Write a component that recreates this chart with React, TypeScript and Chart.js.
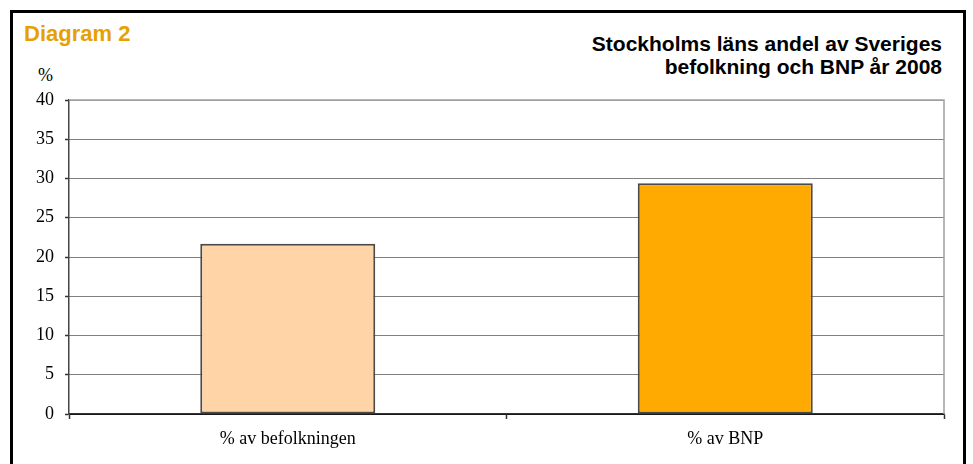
import React, { useEffect, useRef } from "react";
import { Chart, registerables } from "chart.js";

Chart.register(...registerables);

const categories = ["% av befolkningen", "% av BNP"];
const values = [21.7, 29.4];
const barColors = ["#FFD5A8", "#FFAA00"];
const yMin = 0;
const yMax = 40;
const yStep = 5;

const plotFrame = {
  id: "plotFrame",
  afterDatasetsDraw(chart: any) {
    const { ctx, chartArea } = chart;
    ctx.save();
    ctx.strokeStyle = "#a0a0a0";
    ctx.lineWidth = 1.5;
    ctx.beginPath();
    ctx.moveTo(chartArea.left, chartArea.top);
    ctx.lineTo(chartArea.right, chartArea.top);
    ctx.lineTo(chartArea.right, chartArea.bottom);
    ctx.stroke();
    ctx.restore();
  },
};

export default function App() {
  const canvasRef = useRef<HTMLCanvasElement | null>(null);

  useEffect(() => {
    if (!canvasRef.current) return;
    const chart = new Chart(canvasRef.current, {
      type: "bar",
      data: {
        labels: categories,
        datasets: [
          {
            data: values,
            backgroundColor: barColors,
            borderColor: "#4a4a4a",
            borderWidth: 2,
            borderSkipped: false,
            categoryPercentage: 0.8,
            barPercentage: 0.5,
          },
        ],
      },
      options: {
        animation: false,
        responsive: true,
        maintainAspectRatio: false,
        layout: { padding: { left: 0, top: 100, right: 29, bottom: 0 } },
        plugins: {
          legend: { display: false },
          title: { display: false },
          tooltip: { enabled: false },
        },
        scales: {
          x: {
            offset: true,
            grid: {
              offset: true,
              drawOnChartArea: false,
              tickLength: 5,
              tickColor: "#333",
              tickWidth: 1.5,
            },
            border: { color: "#333", width: 1.5 },
            ticks: {
              color: "#000",
              padding: 9,
              font: { family: "'Liberation Serif', serif", size: 18 },
            },
            afterFit: (scale: any) => {
              scale.height = 50;
            },
          },
          y: {
            min: yMin,
            max: yMax,
            ticks: {
              stepSize: yStep,
              color: "#000",
              padding: 11,
              font: { family: "'Liberation Serif', serif", size: 18 },
            },
            grid: {
              color: (ctx: any) =>
                ctx.tick && ctx.tick.value === yMax ? "#a0a0a0" : "#000",
              lineWidth: 1,
              tickLength: 4,
              tickColor: "#333",
              tickWidth: 1.5,
            },
            border: {
              color: "#444",
              width: 1.5,
              dash: (ctx: any) =>
                ctx.tick && ctx.tick.value > yMin && ctx.tick.value < yMax
                  ? [1, 1]
                  : [],
            },
            afterFit: (scale: any) => {
              scale.width = 69;
            },
          },
        },
      },
      plugins: [plotFrame],
    });
    return () => chart.destroy();
  }, []);

  return (
    <div
      style={{
        position: "absolute",
        left: 0,
        top: 0,
        width: 973,
        height: 464,
        overflow: "hidden",
        background: "#fff",
      }}
    >
      <div
        style={{
          position: "absolute",
          left: 10,
          top: 10,
          width: 950,
          height: 600,
          border: "3px solid #000",
        }}
      />
      <div
        style={{
          position: "absolute",
          left: 24,
          top: 23,
          fontFamily: "'Liberation Sans', Arial, sans-serif",
          fontWeight: 700,
          fontSize: 22,
          lineHeight: "21px",
          color: "#E6A100",
          whiteSpace: "nowrap",
        }}
      >
        Diagram 2
      </div>
      <div
        style={{
          position: "absolute",
          right: 31,
          top: 33,
          textAlign: "right",
          fontFamily: "'Liberation Sans', Arial, sans-serif",
          fontWeight: 700,
          fontSize: 21,
          lineHeight: "22.6px",
          color: "#000",
          whiteSpace: "nowrap",
        }}
      >
        Stockholms läns andel av Sveriges
        <br />
        befolkning och BNP år 2008
      </div>
      <div
        style={{
          position: "absolute",
          left: 38,
          top: 66,
          fontFamily: "'Liberation Serif', serif",
          fontSize: 18,
          lineHeight: "18px",
          color: "#000",
        }}
      >
        %
      </div>
      <div style={{ position: "absolute", left: 0, top: 0, width: 973, height: 464 }}>
        <canvas ref={canvasRef} />
      </div>
    </div>
  );
}
